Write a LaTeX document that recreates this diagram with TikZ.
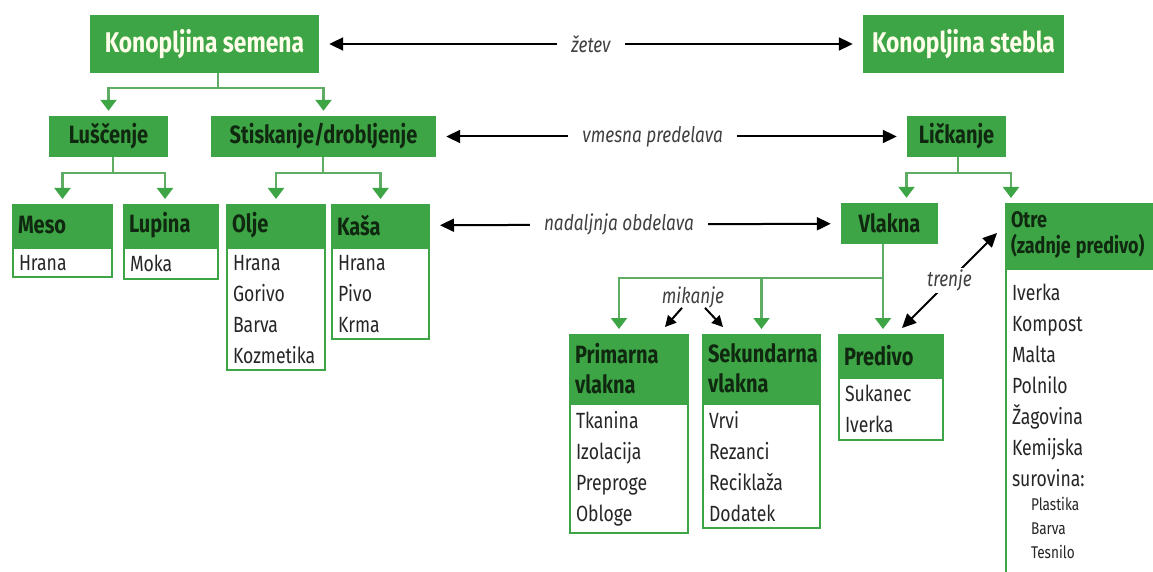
\documentclass[tikz,border=0pt]{standalone}
\usepackage{fontspec}
\setmainfont{Fira Sans}[FakeStretch=0.8]
\usetikzlibrary{positioning, arrows.meta}
\definecolor{hg}{RGB}{61,165,69}
\definecolor{lg}{RGB}{95,172,100}
\definecolor{dk}{RGB}{16,40,16}

\begin{document}
\begin{tikzpicture}[x=1pt, y=-1pt,
	ttl/.style={fill=hg, text=white!92!yellow, font=\fontsize{28.5}{30}\selectfont\bfseries, minimum height=58pt, inner xsep=0pt},
	stg/.style={fill=hg, text=dk, font=\fontsize{25}{28}\selectfont\bfseries, minimum height=41pt, inner xsep=0pt},
	hd/.style={fill=hg, draw=hg, line width=2pt, text=dk, font=\fontsize{25}{30}\selectfont\bfseries, anchor=north west, align=left, text width=#1, inner xsep=5pt, minimum height=41pt},
	lst/.style={draw=hg, fill=white, line width=2pt, text=black!85, font=\fontsize{22}{31}\selectfont, align=left, text width=#1, inner xsep=6pt, inner ysep=7pt},
	lbl/.style={fill=white, text=black!75, font=\fontsize{21.5}{24}\selectfont\itshape, inner xsep=14pt, inner ysep=2pt},
	lnk/.style={draw=lg, line width=2.2pt},
	arr/.style={lnk, -{Triangle[width=16pt, length=11pt, fill=hg, color=hg]}, shorten >=5pt},
	blk/.style={draw=black, line width=2pt, {Triangle[width=13pt, length=14pt]}-{Triangle[width=13pt, length=14pt]}, shorten <=10pt, shorten >=10pt},
	sblk/.style={draw=black, line width=2pt, -{Triangle[width=11pt, length=11pt]}}]
	\clip (0,0) rectangle (1153,572);
	\node[ttl, minimum width=229pt] (sem) at (204.5,44) {Konopljina semena};
	\node[ttl, minimum width=201pt] (stb) at (963.5,44) {Konopljina stebla};
	\draw[blk] (sem) -- node[lbl] {žetev} (stb);
	\node[stg, minimum width=119pt] (lus) at (108.5,136.5) {Luščenje};
	\node[stg, minimum width=225pt] (sti) at (323.5,136.5) {Stiskanje/drobljenje};
	\node[stg, minimum width=99pt] (lic) at (956.5,136.5) {Ličkanje};
	\draw[blk] (sti) -- node[lbl, pos=.46] {vmesna predelava} (lic);
	\node[hd=89pt] (mes) at (12,204) {Meso};
	\node[lst=87pt, below=0pt of mes] (mesl) {Hrana};
	\node[hd=84pt] (lup) at (123,204) {Lupina};
	\node[lst=82pt, below=0pt of lup] (lupl) {Moka};
	\node[hd=88pt] (olj) at (226,204) {Olje};
	\node[lst=86pt, below=0pt of olj] (oljl) {Hrana\\Gorivo\\Barva\\Kozmetika};
	\node[hd=87pt] (kas) at (331,204) {Kaša};
	\node[lst=85pt, below=0pt of kas] (kasl) {Hrana\\Pivo\\Krma};
	\node[stg, minimum width=97pt] (vla) at (889.5,223.5) {Vlakna};
	\draw[blk] (kas) -- node[lbl, pos=.46] {nadaljnja obdelava} (vla);
	\node[hd=150pt, minimum height=63pt, font=\fontsize{22.5}{26}\selectfont\bfseries] (otr) at (1005,203) {Otre\\(zadnje\hspace{5pt}predivo)};
	\node[lst=148pt, below=0pt of otr, inner ysep=15pt] (otrl) {Iverka\\Kompost\\Malta\\Polnilo\\Žagovina\\Kemijska\\surovina:\\[-7pt]
		\hspace*{19pt}{\fontsize{17}{18}\selectfont Plastika}\\[-7pt]
		\hspace*{19pt}{\fontsize{17}{18}\selectfont Barva}\\[-7pt]
		\hspace*{19pt}{\fontsize{17}{18}\selectfont Tesnilo}};
	\node[hd=108pt, minimum height=67pt] (pri) at (569,334) {Primarna\\vlakna};
	\node[lst=106pt, below=0pt of pri] (pril) {Tkanina\\Izolacija\\Preproge\\Obloge};
	\node[hd=107pt, minimum height=67pt] (sek) at (702,334) {Sekundarna\\vlakna};
	\node[lst=105pt, below=0pt of sek] (sekl) {Vrvi\\Rezanci\\Reciklaža\\Dodatek};
	\node[hd=94pt] (pre) at (838,334) {Predivo};
	\node[lst=92pt, below=0pt of pre] (prel) {Sukanec\\Iverka};
	\coordinate (j1) at (218,88); \coordinate (j2) at (113,173); \coordinate (j3) at (323,173);
	\coordinate (j4) at (958,173); \coordinate (j5) at (883,278);
	\draw[lnk] (j1 |- sem.south) -- (j1); \draw[arr] (j1) -| (lus); \draw[arr] (j1) -| (sti);
	\draw[lnk] (j2 |- lus.south) -- (j2); \draw[arr] (j2) -| (mes.north -| mesl); \draw[arr] (j2) -| ([xshift=-6pt]lup.north -| lupl);
	\draw[lnk] (j3 |- sti.south) -- (j3); \draw[arr] (j3) -| (olj.north -| oljl); \draw[arr] (j3) -| (kas.north -| kasl);
	\draw[lnk] (j4 |- lic.south) -- (j4); \draw[arr] (j4) -| ([xshift=17pt]vla.north); \draw[arr] (j4) -| ([xshift=6pt]otr.north west);
	\draw[arr] (j5 |- vla.south) -- (j5 |- pre.north); \draw[arr] (j5) -| ([xshift=-10pt]pri.north -| pril); \draw[arr] (j5) -| (sek.north -| sekl);
	\node[lbl, fill=none, inner sep=0pt] (mik) at (693,297) {mikanje};
	\draw[sblk] ([xshift=-11pt]mik.south) -- ([shift={(-24,-7)}]pri.north east);
	\draw[sblk] ([xshift=12pt]mik.south) -- ([shift={(21,-7)}]sek.north west);
	\coordinate (t1) at ([shift={(-42,-6)}]pre.north east); \coordinate (t2) at ([shift={(-8,30)}]otr.north west);
	\draw[blk, shorten <=0pt, shorten >=0pt] (t1) -- node[lbl, inner xsep=4pt] {trenje} (t2);
\end{tikzpicture}
\end{document}
